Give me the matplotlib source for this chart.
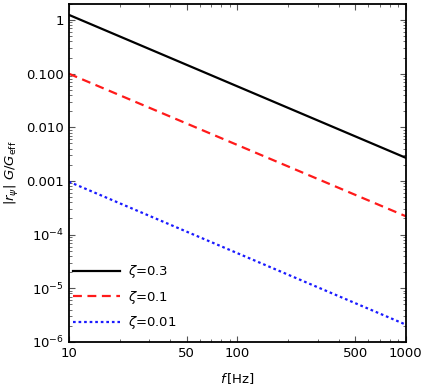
import matplotlib
matplotlib.use("Agg")
import matplotlib.pyplot as plt
from matplotlib.ticker import FixedLocator, FixedFormatter, LogLocator, NullFormatter

freq = [10, 1000]
r_zeta03 = [1.25, 0.0027]
r_zeta01 = [0.1, 2.2e-4]
r_zeta001 = [9.7e-4, 2.1e-6]
labels = [r"$\zeta$=0.3", r"$\zeta$=0.1", r"$\zeta$=0.01"]

xticks = [10, 50, 100, 500, 1000]
xticklabels = ["10", "50", "100", "500", "1000"]
yticks = [1e-6, 1e-5, 1e-4, 1e-3, 1e-2, 1e-1, 1]
yticklabels = [r"$10^{-6}$", r"$10^{-5}$", r"$10^{-4}$", "0.001", "0.010", "0.100", "1"]

fs = 9.5
fig = plt.figure(figsize=(4.25, 3.89), dpi=100)
ax = fig.add_axes([0.162, 0.121, 0.793, 0.869])

ax.plot(freq, r_zeta03, color="black", lw=1.6, ls="-", label=labels[0])
ax.plot(freq, r_zeta01, color="#ff1a1a", lw=1.6, ls=(0, (4, 2.5)), label=labels[1])
ax.plot(freq, r_zeta001, color="#1a1aff", lw=1.6, ls=(0, (1.2, 1.3)), label=labels[2])

ax.set_xscale("log")
ax.set_yscale("log")
ax.set_xlim(10, 1000)
ax.set_ylim(1e-6, 2.0)

ax.xaxis.set_major_locator(FixedLocator(xticks))
ax.xaxis.set_major_formatter(FixedFormatter(xticklabels))
ax.xaxis.set_minor_locator(LogLocator(base=10, subs=range(2, 10)))
ax.xaxis.set_minor_formatter(NullFormatter())
ax.yaxis.set_major_locator(FixedLocator(yticks))
ax.yaxis.set_major_formatter(FixedFormatter(yticklabels))
ax.yaxis.set_minor_locator(LogLocator(base=10, subs=range(2, 10)))
ax.yaxis.set_minor_formatter(NullFormatter())

ax.tick_params(which="both", direction="in", top=True, right=True, labelsize=fs, color="#555555")
ax.tick_params(which="major", length=4, width=0.8)
ax.tick_params(which="minor", length=2, width=0.6)
for s in ax.spines.values():
    s.set_linewidth(1.3)

ax.set_xlabel(r"$f\,$[Hz]", fontsize=fs, labelpad=8)
ax.set_ylabel(r"$|r_\psi|\ G/G_{\rm eff}$", fontsize=fs, labelpad=4)

ax.legend(loc="lower left", bbox_to_anchor=(0.004, 0.024), frameon=False, fontsize=fs,
          handlelength=3.6, labelspacing=0.64, borderaxespad=0.0, borderpad=0.2,
          handletextpad=0.6)

fig.savefig("out.png", dpi=100)
